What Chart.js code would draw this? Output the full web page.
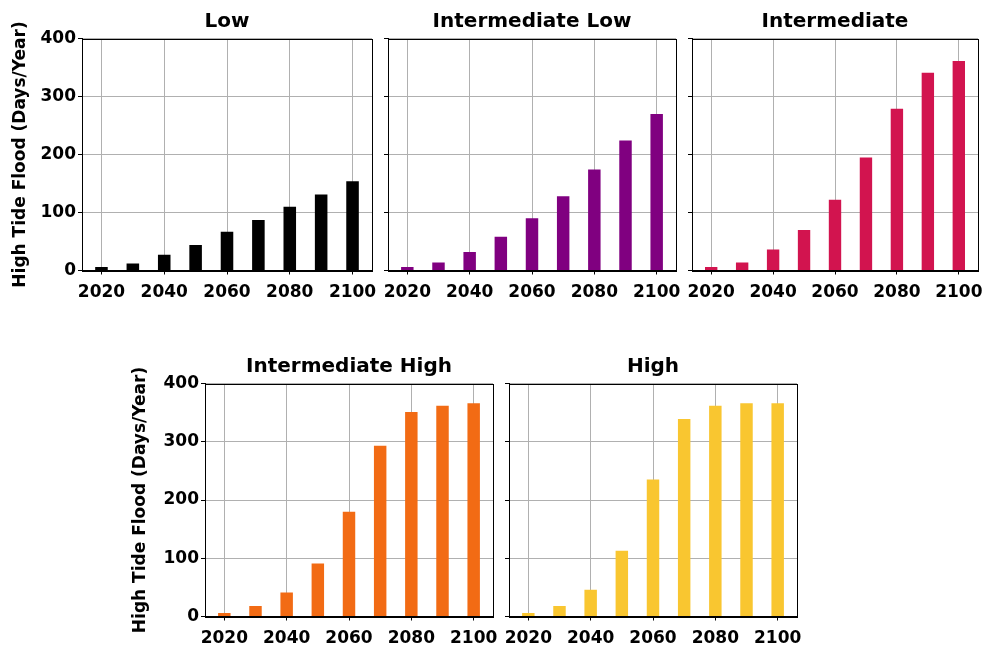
<!DOCTYPE html>
<html>
<head>
    <title>High Tide Flood Scenarios</title>
    <script src="https://cdn.jsdelivr.net/npm/chart.js"></script>
    <style>
        body {
            margin: 0;
            padding: 0;
            background: #ffffff;
            width: 986px;
            height: 645px;
            overflow: hidden;
            position: relative;
        }
        .panel {
            position: absolute;
        }
    </style>
</head>
<body>
    <div class="panel" id="p0"><canvas id="c0"></canvas></div>
    <div class="panel" id="p1"><canvas id="c1"></canvas></div>
    <div class="panel" id="p2"><canvas id="c2"></canvas></div>
    <div class="panel" id="p3"><canvas id="c3"></canvas></div>
    <div class="panel" id="p4"><canvas id="c4"></canvas></div>

    <script>
        // data (days per year)
        const years = [2020, 2030, 2040, 2050, 2060, 2070, 2080, 2090, 2100];
        const lowValues = [6, 12, 27, 44, 67, 87, 110, 131, 154];
        const intLowValues = [6, 14, 32, 58, 90, 128, 174, 224, 270];
        const intermediateValues = [6, 14, 36, 70, 122, 195, 279, 341, 361];
        const intHighValues = [6, 18, 41, 91, 180, 293, 351, 362, 366];
        const highValues = [6, 18, 46, 113, 235, 339, 362, 366, 366];

        const xTicks = [2020, 2040, 2060, 2080, 2100];
        const yTicks = [0, 100, 200, 300, 400];
        const yLabel = 'High Tide Flood (Days/Year)';

        const titles = ['Low', 'Intermediate Low', 'Intermediate', 'Intermediate High', 'High'];
        const series = [lowValues, intLowValues, intermediateValues, intHighValues, highValues];
        const colors = ['#000000', '#800080', '#d2144f', '#f26b14', '#f9c630'];

        // plot-area boxes in page pixels (left, top, width, height) + label options
        const panels = [
            { l: 82, t: 38, w: 290, h: 232, showY: true, yTitlePad: 10 },
            { l: 388, t: 38, w: 288, h: 232, showY: false },
            { l: 692, t: 38, w: 286, h: 232, showY: false },
            { l: 205, t: 383, w: 288, h: 233, showY: true, yTitlePad: 7 },
            { l: 509, t: 383, w: 288, h: 233, showY: false }
        ];

        const FONT = "'DejaVu Sans', sans-serif";
        const PAD_TOP = 4, TITLE_H = 28.5, X_AXIS_H = 40, RIGHT_PAD = 24;

        Chart.defaults.font.family = FONT;
        Chart.defaults.color = '#000000';

        // matplotlib-like full frame around the axes
        const frame = {
            id: 'frame',
            afterDraw(chart) {
                const a = chart.chartArea;
                const c = chart.ctx;
                c.save();
                c.strokeStyle = '#000000';
                c.lineWidth = 1;
                c.strokeRect(Math.round(a.left) + 0.5, Math.round(a.top) + 0.5,
                             Math.round(a.right - a.left), Math.round(a.bottom - a.top));
                c.restore();
            }
        };

        panels.forEach((p, i) => {
            const yw = p.showY ? 82 : 30;
            const box = document.getElementById('p' + i);
            box.style.left = (p.l - yw) + 'px';
            box.style.top = (p.t - TITLE_H - PAD_TOP) + 'px';
            box.style.width = (yw + p.w + RIGHT_PAD) + 'px';
            box.style.height = (PAD_TOP + TITLE_H + p.h + X_AXIS_H) + 'px';

            new Chart(document.getElementById('c' + i), {
                type: 'bar',
                data: {
                    datasets: [{
                        data: years.map((y, k) => ({ x: y, y: series[i][k] })),
                        backgroundColor: colors[i],
                        borderWidth: 0,
                        categoryPercentage: 1.0,
                        barPercentage: 0.4
                    }]
                },
                options: {
                    responsive: true,
                    maintainAspectRatio: false,
                    animation: false,
                    layout: { padding: { top: PAD_TOP, right: RIGHT_PAD, bottom: 0, left: 0 } },
                    plugins: {
                        legend: { display: false },
                        tooltip: { enabled: false },
                        title: {
                            display: true,
                            text: titles[i],
                            fullSize: false,
                            color: '#000000',
                            font: { size: 20, weight: 'bold', lineHeight: '24px' },
                            padding: { top: 0, bottom: 4.5 }
                        }
                    },
                    scales: {
                        x: {
                            type: 'linear',
                            min: 2013.8,
                            max: 2106.2,
                            offset: false,
                            afterBuildTicks: s => { s.ticks = xTicks.map(v => ({ value: v })); },
                            afterFit: s => { s.height = X_AXIS_H; },
                            grid: {
                                offset: false,
                                color: '#b0b0b0',
                                lineWidth: 1,
                                tickLength: 4,
                                tickColor: '#000000'
                            },
                            border: { display: true, color: '#000000', width: 1 },
                            ticks: {
                                color: '#000000',
                                padding: 8,
                                maxRotation: 0,
                                font: { size: 17, weight: 'bold' },
                                callback: v => String(v)
                            }
                        },
                        y: {
                            min: 0,
                            max: 400,
                            afterBuildTicks: s => { s.ticks = yTicks.map(v => ({ value: v })); },
                            afterFit: s => { s.width = yw; },
                            grid: {
                                color: '#b0b0b0',
                                lineWidth: 1,
                                tickLength: 4,
                                tickColor: '#000000'
                            },
                            border: { display: true, color: '#000000', width: 1 },
                            ticks: {
                                color: '#000000',
                                padding: 2,
                                font: { size: 17, weight: 'bold' },
                                callback: v => p.showY ? String(v) : ''
                            },
                            title: {
                                display: p.showY,
                                text: yLabel,
                                color: '#000000',
                                font: { size: 17, weight: 'bold' },
                                padding: { top: p.yTitlePad || 0, bottom: 0 }
                            }
                        }
                    }
                },
                plugins: [frame]
            });
        });
    </script>
</body>
</html>
